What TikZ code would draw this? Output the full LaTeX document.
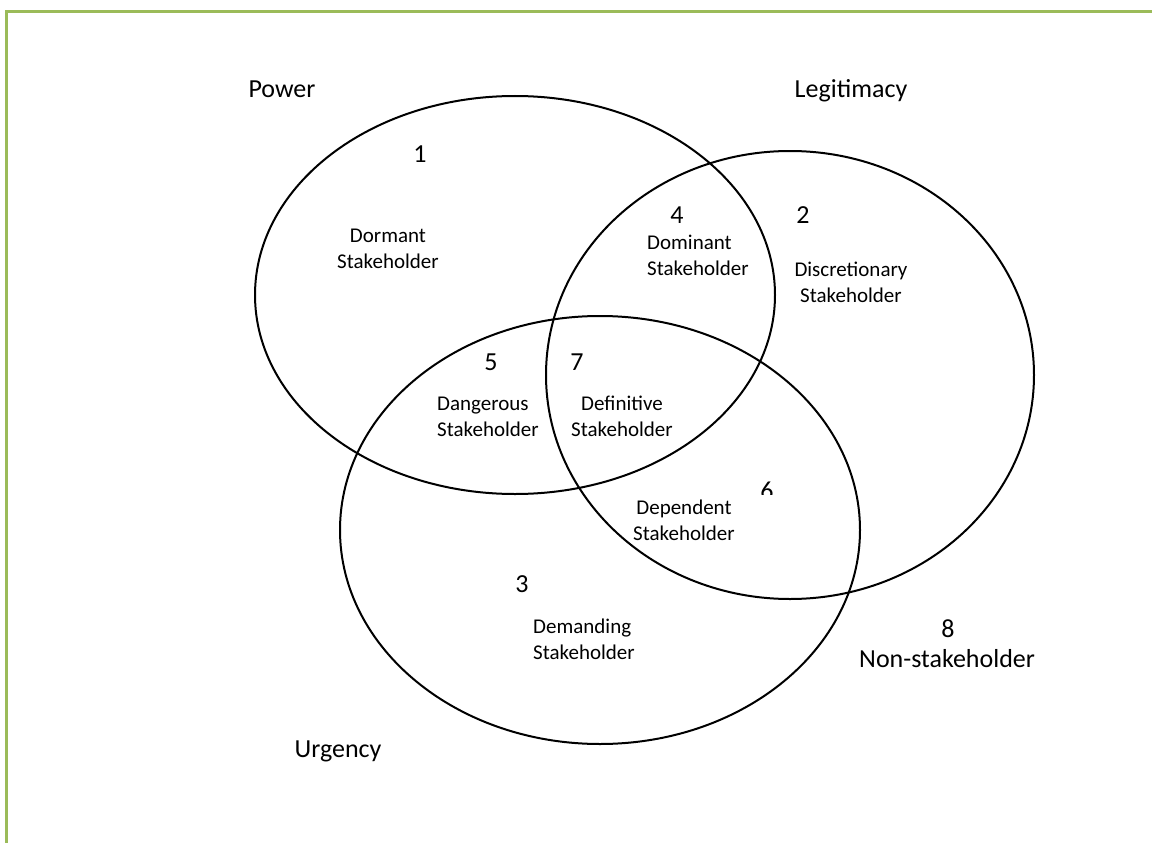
\documentclass[tikz,border=0pt]{standalone}
\usepackage{fontspec}
\setmainfont{Carlito}
\usetikzlibrary{shapes.geometric}
\definecolor{framegreen}{HTML}{9BBB59}
\begin{document}
\begin{tikzpicture}[x=1pt,y=-1pt,
  setshape/.style={draw=black,line width=2pt,ellipse,inner sep=0pt},
  big/.style={font=\fontsize{26}{31}\selectfont,inner sep=0pt},
  small/.style={font=\fontsize{21}{26}\selectfont,inner sep=0pt},
  frameline/.style={draw=framegreen,line width=3pt}]
\path[use as bounding box] (0,0) rectangle (1152,843);
% frame
\coordinate (fl1) at (6.5,843);
\coordinate (fl2) at (6.5,10);
\coordinate (ft1) at (5,11.5);
\coordinate (ft2) at (1152,11.5);
\draw[frameline] (fl1) -- (fl2);
\draw[frameline] (ft1) -- (ft2);
% sets
\node[setshape,minimum width=520pt,minimum height=398pt] (power) at (515,295) {};
\node[setshape,minimum width=488pt,minimum height=448pt] (legit) at (790,375) {};
\node[setshape,minimum width=520pt,minimum height=428pt] (urg) at (600,530) {};
% set names
\node[big,anchor=base] (lpower) at (282,98) {Power};
\node[big,anchor=base] (llegit) at (851,98) {Legitimacy};
\node[big,anchor=base] (lurg) at (338,757) {Urgency};
% numbers
\node[big,anchor=base] (n1) at (420,162) {1};
\node[big,anchor=base] (n4) at (677,223) {4};
\node[big,anchor=base] (n2) at (803,223) {2};
\node[big,anchor=base] (n5) at (491,370) {5};
\node[big,anchor=base] (n7) at (577,370) {7};
\begin{scope}
\clip (740,470) rectangle (800,494);
\node[big,anchor=base] (n6) at (767,499) {6};
\end{scope}
\node[big,anchor=base] (n3) at (522,592) {3};
\node[big,anchor=base] (n8) at (948,637) {8};
\node[big,anchor=base west] (non) at (859,667) {Non-stakeholder};
% region labels (anchor = baseline of the last line)
\node[small,align=center,anchor=base] (dormant) at (388,268) {Dormant\\Stakeholder};
\node[small,align=left,anchor=base west] (dominant) at (647,275) {Dominant\\Stakeholder};
\node[small,align=center,anchor=base] (discr) at (851,302) {Discretionary\\Stakeholder};
\node[small,align=left,anchor=base west] (danger) at (437,436) {Dangerous\\Stakeholder};
\node[small,align=center,anchor=base] (defin) at (622,436) {Definitive\\Stakeholder};
\node[small,align=center,anchor=base] (depend) at (684,540) {Dependent\\Stakeholder};
\node[small,align=left,anchor=base west] (demand) at (533,659) {Demanding\\Stakeholder};
\end{tikzpicture}
\end{document}
